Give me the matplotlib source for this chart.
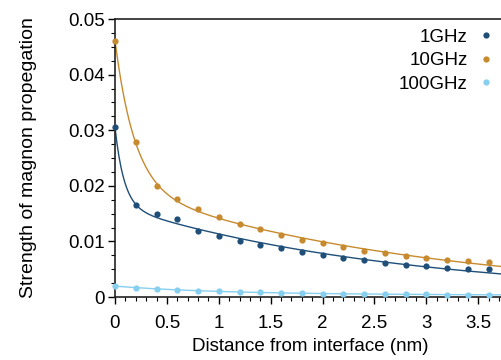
import numpy as np
import matplotlib.pyplot as plt
from matplotlib.ticker import MultipleLocator

plt.rcParams['font.family'] = ['Liberation Sans', 'DejaVu Sans']

# distancia desde la interfaz (nm)
distance = [0.0, 0.2, 0.4, 0.6, 0.8, 1.0, 1.2, 1.4, 1.6, 1.8,
            2.0, 2.2, 2.4, 2.6, 2.8, 3.0, 3.2, 3.4, 3.6]

s_1ghz = [0.0305, 0.0166, 0.0150, 0.0140, 0.0119, 0.0110, 0.0100, 0.0094, 0.0088, 0.0081,
          0.0076, 0.0071, 0.0067, 0.0062, 0.0058, 0.0055, 0.0053, 0.0051, 0.0050]
s_10ghz = [0.0461, 0.0279, 0.0199, 0.0177, 0.0158, 0.0144, 0.0131, 0.0122, 0.0112, 0.0103,
           0.0097, 0.0090, 0.0083, 0.0079, 0.0074, 0.0070, 0.0067, 0.0065, 0.0063]
s_100ghz = [0.0020, 0.0016, 0.0015, 0.0013, 0.0011, 0.0010, 0.00095, 0.00084, 0.00072, 0.00066,
            0.00060, 0.00057, 0.00054, 0.00051, 0.00048, 0.00046, 0.00044, 0.00042, 0.00040]

labels = ["1GHz", "10GHz", "100GHz"]
colores = ["#1f4e79", "#c88a2e", "#87cfee"]


def ajuste_doble_exp(x, y):
    # ajuste A1*exp(-x/t1) + A2*exp(-x/t2) por busqueda en rejilla
    x = np.asarray(x)
    y = np.asarray(y)
    mejor = None
    for t1 in np.logspace(-2.5, 0, 60):
        for t2 in np.logspace(-0.3, 1.5, 60):
            M = np.column_stack([np.exp(-x / t1), np.exp(-x / t2)])
            coef, *_ = np.linalg.lstsq(M, y, rcond=None)
            err = np.sum((M @ coef - y) ** 2)
            if mejor is None or err < mejor[0]:
                mejor = (err, t1, t2, coef)
    _, t1, t2, coef = mejor
    return lambda xx: coef[0] * np.exp(-xx / t1) + coef[1] * np.exp(-xx / t2)


fig = plt.figure(figsize=(5.02, 3.6), dpi=100)
ax = fig.add_axes([115 / 502, 63 / 360, 390 / 502, 278 / 360])

xs = np.linspace(0, 3.8, 400)
for y, lab, c in zip([s_1ghz, s_10ghz, s_100ghz], labels, colores):
    f = ajuste_doble_exp(distance, y)
    ax.plot(xs, f(xs), color=c, lw=1.0)
    ax.plot(distance, y, 'o', color=c, ms=4.5, mec='none', label=lab, clip_on=False, zorder=3)

ax.set_xlim(0, 390 / 103.8)
ax.set_ylim(0, 0.05)
ax.xaxis.set_minor_locator(MultipleLocator(0.1))
ax.yaxis.set_minor_locator(MultipleLocator(0.0025))
ax.set_yticks([0, 0.01, 0.02, 0.03, 0.04, 0.05])
ax.set_yticklabels(["0", "0.01", "0.02", "0.03", "0.04", "0.05"])
ax.set_xticks([0, 0.5, 1, 1.5, 2, 2.5, 3, 3.5])
ax.set_xticklabels(["0", "0.5", "1", "1.5", "2", "2.5", "3", "3.5"])

ax.spines['right'].set_visible(False)
for s in ['left', 'bottom', 'top']:
    ax.spines[s].set_linewidth(1.2)
    ax.spines[s].set_color('#222222')
ax.tick_params(which='major', length=5, width=1, labelsize=13.5, direction='out')
ax.tick_params(axis='x', which='major', pad=8)
ax.tick_params(axis='y', which='major', pad=2.5)
ax.tick_params(which='minor', length=3, width=0.8, direction='out')
ax.tick_params(top=False, right=False, which='both')

ax.set_xlabel("Distance from interface (nm)", fontsize=13.5, labelpad=4)
ax.set_ylabel("Strength of magnon propegation", fontsize=14, labelpad=22)

ax.legend(loc='upper right', frameon=False, markerfirst=False, fontsize=13.5,
          handlelength=0.8, handletextpad=0.6, labelspacing=0.33,
          bbox_to_anchor=(1.015, 1.025))

fig.savefig("out.png", dpi=100)
